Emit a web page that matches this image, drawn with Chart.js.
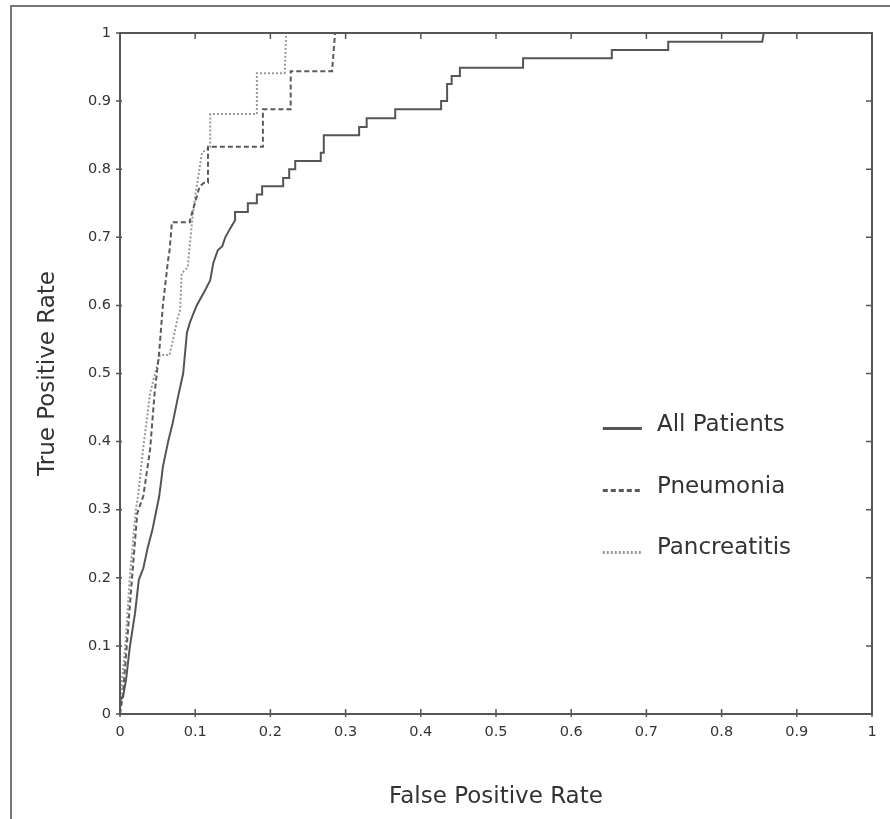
<!DOCTYPE html>
<html>
<head>
<meta charset="utf-8">
<script src="https://cdn.jsdelivr.net/npm/chart.js@4.4.0/dist/chart.umd.min.js"></script>
<style>
html, body { margin: 0; padding: 0; background: #fff; }
#wrap { position: relative; width: 890px; height: 819px; overflow: hidden; }
#frame { position: absolute; left: 10px; top: 5px; width: 890px; height: 830px;
         border-left: 2px solid #777; border-top: 2px solid #777; }
canvas { position: absolute; left: 0; top: 0; }
</style>
</head>
<body>
<div id="wrap">
  <div id="frame"></div>
  <canvas id="rocChart" width="890" height="819"></canvas>
</div>
<script>
// ROC curves (false positive rate, true positive rate)
const seriesNames = ['All Patients', 'Pneumonia', 'Pancreatitis'];

const allFpr = [0, 0, 0.004, 0.008, 0.013, 0.020, 0.025, 0.031, 0.037, 0.043,
                0.052, 0.055, 0.057, 0.064, 0.070, 0.077, 0.084, 0.089, 0.093, 0.102,
                0.113, 0.120, 0.124, 0.130, 0.136, 0.140, 0.146, 0.153, 0.153, 0.170,
                0.170, 0.182, 0.182, 0.189, 0.189, 0.217, 0.217, 0.225, 0.225, 0.233,
                0.233, 0.267, 0.267, 0.271, 0.271, 0.318, 0.318, 0.328, 0.328, 0.366,
                0.366, 0.427, 0.427, 0.435, 0.435, 0.441, 0.441, 0.452, 0.452, 0.536,
                0.536, 0.654, 0.654, 0.729, 0.729, 0.854, 0.856, 1];
const allTpr = [0, 0.020, 0.025, 0.050, 0.098, 0.148, 0.197, 0.214, 0.245, 0.270,
                0.319, 0.344, 0.363, 0.400, 0.427, 0.465, 0.500, 0.560, 0.575, 0.600,
                0.622, 0.637, 0.662, 0.681, 0.687, 0.700, 0.712, 0.725, 0.737, 0.737,
                0.750, 0.750, 0.763, 0.763, 0.775, 0.775, 0.787, 0.787, 0.800, 0.800,
                0.812, 0.812, 0.824, 0.824, 0.850, 0.850, 0.862, 0.862, 0.875, 0.875,
                0.888, 0.888, 0.900, 0.900, 0.925, 0.925, 0.937, 0.937, 0.949, 0.949,
                0.963, 0.963, 0.975, 0.975, 0.987, 0.987, 1, 1];

const pneuFpr = [0, 0.004, 0.009, 0.016, 0.023, 0.031, 0.040, 0.046, 0.052, 0.057,
                 0.064, 0.066, 0.069, 0.093, 0.093, 0.106, 0.112, 0.117, 0.117, 0.190,
                 0.190, 0.227, 0.227, 0.282, 0.286];
const pneuTpr = [0, 0.030, 0.100, 0.200, 0.295, 0.320, 0.388, 0.471, 0.530, 0.600,
                 0.667, 0.681, 0.722, 0.722, 0.725, 0.775, 0.780, 0.780, 0.833, 0.833,
                 0.888, 0.888, 0.944, 0.944, 1];

const pancFpr = [0, 0.001, 0.007, 0.013, 0.021, 0.024, 0.031, 0.040, 0.053, 0.066,
                 0.077, 0.080, 0.082, 0.090, 0.096, 0.100, 0.109, 0.120, 0.120, 0.182,
                 0.182, 0.219, 0.221];
const pancTpr = [0, 0.030, 0.100, 0.200, 0.300, 0.320, 0.392, 0.471, 0.527, 0.527,
                 0.583, 0.593, 0.647, 0.656, 0.725, 0.760, 0.824, 0.833, 0.881, 0.881,
                 0.941, 0.941, 1];

const xTicks = [0, 0.1, 0.2, 0.3, 0.4, 0.5, 0.6, 0.7, 0.8, 0.9, 1];
const yTicks = [0, 0.1, 0.2, 0.3, 0.4, 0.5, 0.6, 0.7, 0.8, 0.9, 1];

const toPoints = (xs, ys) => xs.map((x, i) => ({ x: x, y: ys[i] }));
const tickLabel = v => String(+(+v).toFixed(1));

const axisColor = '#555';
const tickFont = { family: 'DejaVu Sans', size: 14.5 };
const titleFont = { family: 'DejaVu Sans', size: 23 };

// box on all four sides plus short tick marks
const boxPlugin = {
    id: 'box',
    afterDatasetsDraw(chart) {
        const { ctx, chartArea: a, scales } = chart;
        ctx.save();
        ctx.strokeStyle = axisColor;
        ctx.lineWidth = 2;
        ctx.strokeRect(a.left, a.top, a.right - a.left, a.bottom - a.top);
        ctx.lineWidth = 1.5;
        ctx.beginPath();
        xTicks.forEach(v => {
            const px = scales.x.getPixelForValue(v);
            ctx.moveTo(px, a.bottom - 5); ctx.lineTo(px, a.bottom + 3);
            ctx.moveTo(px, a.top); ctx.lineTo(px, a.top + 6);
        });
        yTicks.forEach(v => {
            const py = scales.y.getPixelForValue(v);
            ctx.moveTo(a.left - 4, py); ctx.lineTo(a.left + 2, py);
            ctx.moveTo(a.right, py); ctx.lineTo(a.right - 6, py);
        });
        ctx.stroke();
        ctx.restore();
    }
};

// legend inside the plot, lower right
const legendPlugin = {
    id: 'innerLegend',
    afterDatasetsDraw(chart) {
        const { ctx, scales } = chart;
        const x0 = scales.x.getPixelForValue(0.642);
        const x1 = scales.x.getPixelForValue(0.694);
        const tx = scales.x.getPixelForValue(0.714);
        const rows = [0.425, 0.334, 0.243];
        ctx.save();
        chart.data.datasets.forEach((ds, i) => {
            const y = scales.y.getPixelForValue(rows[i]);
            ctx.strokeStyle = ds.borderColor;
            ctx.lineWidth = 3;
            ctx.setLineDash(ds.borderDash || []);
            ctx.beginPath();
            ctx.moveTo(x0, y + 4);
            ctx.lineTo(x1, y + 4);
            ctx.stroke();
            ctx.setLineDash([]);
            ctx.fillStyle = '#333';
            ctx.font = '23px "DejaVu Sans"';
            ctx.textBaseline = 'middle';
            ctx.fillText(ds.label, tx, y);
        });
        ctx.restore();
    }
};

new Chart(document.getElementById('rocChart'), {
    type: 'scatter',
    data: {
        datasets: [{
            label: seriesNames[0],
            data: toPoints(allFpr, allTpr),
            borderColor: '#555',
            borderWidth: 2
        },
        {
            label: seriesNames[1],
            data: toPoints(pneuFpr, pneuTpr),
            borderColor: '#5a5a5a',
            borderWidth: 2,
            borderDash: [5, 3]
        },
        {
            label: seriesNames[2],
            data: toPoints(pancFpr, pancTpr),
            borderColor: '#999',
            borderWidth: 2,
            borderDash: [2, 2]
        }].map(d => Object.assign(d, { showLine: true, pointRadius: 0, fill: false, tension: 0 }))
    },
    options: {
        responsive: false,
        animation: false,
        devicePixelRatio: 1,
        layout: { padding: { left: 0, top: 33, right: 18, bottom: 0 } },
        plugins: {
            legend: { display: false },
            tooltip: { enabled: false }
        },
        scales: {
            x: {
                type: 'linear',
                min: 0,
                max: 1,
                afterBuildTicks: s => { s.ticks = xTicks.map(v => ({ value: v })); },
                afterFit: s => { s.height = 105; },
                ticks: { font: tickFont, color: '#333', padding: 10, maxRotation: 0, callback: tickLabel },
                grid: { drawOnChartArea: false, drawTicks: false },
                border: { display: false },
                title: {
                    display: true,
                    text: 'False Positive Rate',
                    font: titleFont,
                    color: '#333',
                    padding: { top: 0, bottom: 8 }
                }
            },
            y: {
                type: 'linear',
                min: 0,
                max: 1,
                afterBuildTicks: s => { s.ticks = yTicks.map(v => ({ value: v })); },
                afterFit: s => { s.width = 120; },
                ticks: { font: tickFont, color: '#333', padding: 9, callback: tickLabel },
                grid: { drawOnChartArea: false, drawTicks: false },
                border: { display: false },
                title: {
                    display: true,
                    text: 'True Positive Rate',
                    font: titleFont,
                    color: '#333',
                    padding: { top: 34, bottom: 0 }
                }
            }
        }
    },
    plugins: [boxPlugin, legendPlugin]
});
</script>
</body>
</html>
